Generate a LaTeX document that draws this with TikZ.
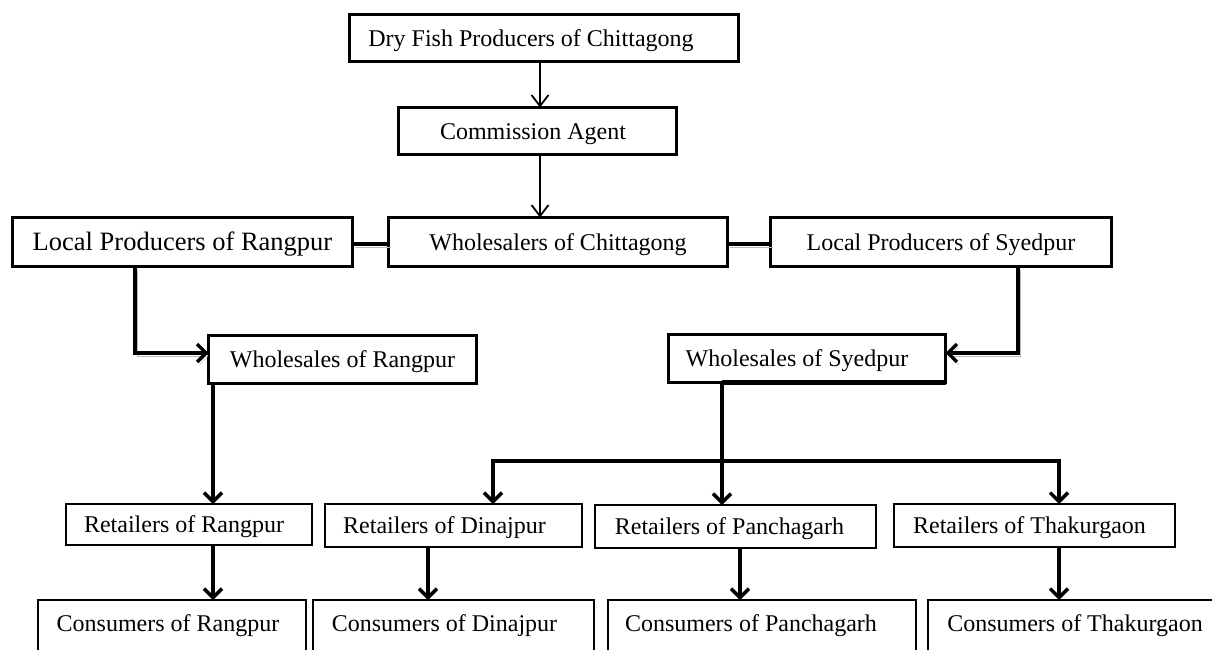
\documentclass[tikz,border=0pt]{standalone}
\usepackage{fontspec}
\setmainfont{Liberation Serif}
\usetikzlibrary{arrows.meta}
\begin{document}
\begin{tikzpicture}[x=1pt,y=-1pt,
  box/.style={draw, line width=3pt, inner sep=0pt, outer sep=0pt,
    font=\fontsize{24}{28}\selectfont, text height=20pt, text depth=4pt},
  thinbox/.style={box, line width=1.8pt},
  cbox/.style={thinbox, text height=8pt, text depth=15pt},
  shadowed/.style={preaction={draw=gray!55, transform canvas={shift={(2pt,-3pt)}}}},
  conn/.style={line width=4pt},
  arr/.style={line width=3.5pt, -{Straight Barb[length=9pt,width=18pt]}},
  arrtop/.style={line width=1.8pt, -{Straight Barb[length=11pt,width=17pt]}}]
\useasboundingbox (0,0) rectangle (1212,649);
\clip (0,0) rectangle (1212,649);

% top chain
\node[box, minimum width=389pt, minimum height=47pt] (A) at (544,38) {\kern-26pt Dry Fish Producers of Chittagong};
\node[box, minimum width=278pt, minimum height=47pt] (B) at (537.5,131) {\kern-9pt Commission Agent};
\node[box, minimum width=339pt, minimum height=49pt] (C) at (558,242) {Wholesalers of Chittagong};
\node[box, minimum width=340pt, minimum height=49pt, font=\fontsize{26.5}{30}\selectfont] (LR) at (182.5,242) {Local Producers of Rangpur};
\node[box, minimum width=341pt, minimum height=49pt] (LS) at (941,242) {Local Producers of Syedpur};
\node[box, minimum width=268pt, minimum height=48pt] (WR) at (342.5,359.5) {Wholesales of Rangpur};
\node[box, minimum width=277pt, minimum height=48pt] (WS) at (807,358.5) {\kern-20pt Wholesales of Syedpur};

% retailers
\node[thinbox, minimum width=246pt, minimum height=41pt] (RR) at (189,524.5) {\kern-10pt Retailers of Rangpur};
\node[thinbox, minimum width=257pt, minimum height=43pt] (RD) at (453.5,525.5) {\kern-18pt Retailers of Dinajpur};
\node[thinbox, minimum width=281pt, minimum height=43pt] (RP) at (735.5,526.5) {\kern-12pt Retailers of Panchagarh};
\node[thinbox, minimum width=281pt, minimum height=43pt] (RT) at (1034.5,525.5) {\kern-10pt Retailers of Thakurgaon};

% consumers (cut off at the bottom)
\node[cbox, minimum width=268pt, minimum height=69pt] (CR) at (172,634.5) {\kern-8pt Consumers of Rangpur};
\node[cbox, minimum width=281pt, minimum height=69pt] (CD) at (453.5,634.5) {\kern-18pt Consumers of Dinajpur};
\node[cbox, minimum width=308pt, minimum height=69pt] (CP) at (762,634.5) {\kern-22pt Consumers of Panchagarh};
\node[cbox, minimum width=301pt, minimum height=69pt] (CT) at (1078.5,634.5) {\kern-7pt Consumers of Thakurgaon};

% helper coordinates
\coordinate (xa) at (540,0);
\coordinate (yc) at (0,244);
\coordinate (k1) at (135,353);
\coordinate (k2) at (1018,353);
\coordinate (x1) at (213,0);
\coordinate (x2) at (722,0);
\coordinate (x3) at (428,0);
\coordinate (x4) at (740,0);
\coordinate (br) at (493,461);
\coordinate (br2) at (1059,461);

% connectors
\draw[arrtop] (A.south -| xa) -- (B.north -| xa);
\draw[arrtop] (B.south -| xa) -- (C.north -| xa);
\draw[conn, shadowed] (LR.east |- yc) -- (C.west |- yc);
\draw[conn, shadowed] (C.east |- yc) -- (LS.west |- yc);
\draw[arr, shadowed] (LR.south -| k1) |- (WR.west |- k1);
\draw[arr, shadowed] (LS.south -| k2) |- (WS.east |- k2);
\draw[line width=4.5pt] (WS.south -| x2) -- (WS.south east);
\draw[arr] (WR.south -| x1) -- (RR.north -| x1);
\draw[arr] (WS.south -| x2) -- (RP.north -| x2);
\draw[arr] (br2) -- (br) -- (RD.north -| br);
\draw[arr] (br) -- (br2) -- (RT.north -| br2);
\draw[arr] (RR.south -| x1) -- (CR.north -| x1);
\draw[arr] (RD.south -| x3) -- (CD.north -| x3);
\draw[arr] (RP.south -| x4) -- (CP.north -| x4);
\draw[arr] (RT.south -| br2) -- (CT.north -| br2);
\end{tikzpicture}
\end{document}
